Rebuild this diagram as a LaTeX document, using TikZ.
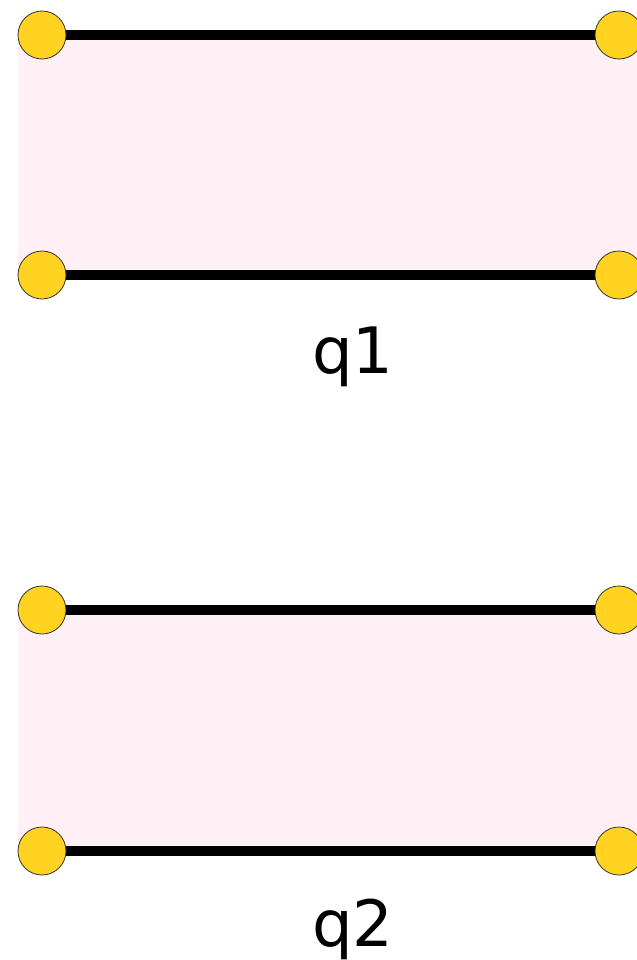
\documentclass[tikz,border=0pt]{standalone}
\usepackage{fontspec}
\setmainfont{DejaVu Sans}
\definecolor{pastelpink}{HTML}{FFF0F5}
\definecolor{sunyellow}{HTML}{FFD320}

\begin{document}
\begin{tikzpicture}[x=0.75pt, y=-0.75pt,
  dot/.style={circle, draw=black!80, line width=0.6pt, fill=sunyellow, minimum size=36pt, inner sep=0pt},
  bar/.style={line width=8pt},
  qlabel/.style={anchor=base, font=\fontsize{48}{48}\selectfont}]
  \useasboundingbox (0,0) rectangle (636,960);

  % Coordinates
  \coordinate (A) at (42, 35);
  \coordinate (B) at (619, 35);
  \coordinate (C) at (42, 275);
  \coordinate (D) at (619, 275);
  \coordinate (E) at (42, 610);
  \coordinate (F) at (619, 610);
  \coordinate (G) at (42, 851);
  \coordinate (H) at (619, 851);

  % Drawing
  \fill[pastelpink] (18, 35) rectangle (660, 275);
  \fill[pastelpink] (18, 610) rectangle (660, 851);
  \draw[bar] (A) -- (B);
  \draw[bar] (C) -- (D);
  \draw[bar] (E) -- (F);
  \draw[bar] (G) -- (H);
  \node[dot] (a) at (A) {};
  \node[dot] (b) at (B) {};
  \node[dot] (c) at (C) {};
  \node[dot] (d) at (D) {};
  \node[dot] (e) at (E) {};
  \node[dot] (f) at (F) {};
  \node[dot] (g) at (G) {};
  \node[dot] (h) at (H) {};
  \node[qlabel] (q1) at (353, 373) {q1};
  \node[qlabel] (q2) at (353, 946) {q2};
\end{tikzpicture}
\end{document}
